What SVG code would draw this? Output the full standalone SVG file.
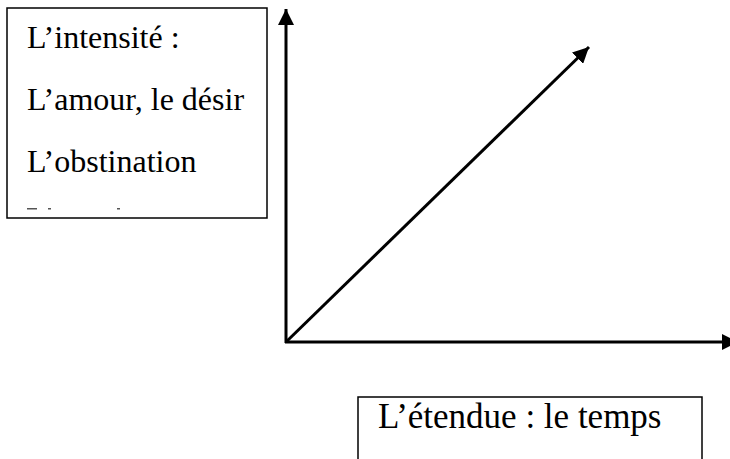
<svg xmlns="http://www.w3.org/2000/svg" width="730" height="459" viewBox="0 0 730 459">
<style>
.box{fill:#fff;stroke:#000;stroke-width:1.5}
.t{font-family:"Liberation Serif","Times New Roman",serif;fill:#000}
.ax{stroke:#000;stroke-width:3;fill:none}
</style>
<defs>
<marker id="ah" markerUnits="userSpaceOnUse" markerWidth="18" markerHeight="16" refX="16" refY="8" orient="auto">
<path d="M0,0 L16,8 L0,16 Z" fill="#000"/>
</marker>
</defs>
<rect width="730" height="459" fill="#fff"/>
<g id="connectors">
<line class="ax" x1="286" y1="343" x2="286" y2="9" marker-end="url(#ah)"/>
<line class="ax" x1="285" y1="342" x2="738" y2="342" marker-end="url(#ah)"/>
<line class="ax" x1="286" y1="342" x2="589" y2="47" marker-end="url(#ah)"/>
</g>
<g id="intensite">
<rect class="box" x="7" y="8" width="260" height="210"/>
<text class="t" x="27" y="48" font-size="32">L’intensité :</text>
<text class="t" x="27" y="110" font-size="32">L’amour, le désir</text>
<text class="t" x="27" y="172" font-size="32">L’obstination</text>
<rect x="27" y="208" width="10" height="1.5" fill="#555"/>
<rect x="48" y="208" width="3" height="1.5" fill="#555"/>
<rect x="117" y="208" width="3" height="1.5" fill="#555"/>
</g>
<g id="etendue">
<rect class="box" x="358" y="397" width="344" height="80"/>
<text class="t" x="378" y="428" font-size="35">L’étendue : le temps</text>
</g>
</svg>
